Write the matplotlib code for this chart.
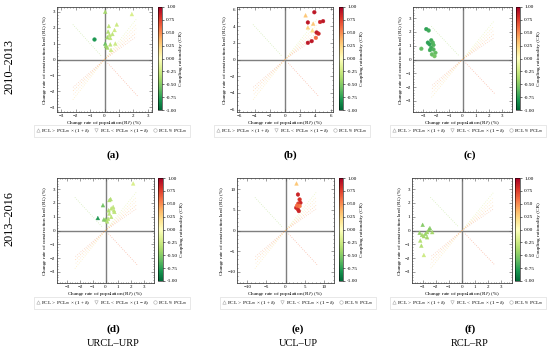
import numpy as np
import matplotlib
matplotlib.use('Agg')
import matplotlib.pyplot as plt
from matplotlib.lines import Line2D

plt.rcParams['font.family'] = ['Liberation Serif', 'DejaVu Serif']
plt.rcParams['mathtext.fontset'] = 'stix'

# Datos por panel: (x = R_P, y = R_L, CR, marcador)
a_x = [0.05, 1.9, 0.3, 0.85, 0.7, 0.25, 0.35, 0.55, 0.2, 0.4, 0.05, 0.1, 0.2, 0.4, 0.75, 0.45, -0.7]
a_y = [3.0, 2.85, 2.1, 2.2, 1.85, 1.75, 1.55, 1.6, 1.4, 1.35, 1.0, 0.85, 0.75, 0.95, 1.0, 0.6, 1.3]
a_cr = [-0.4, -0.2, -0.3, -0.25, -0.25, -0.35, -0.3, -0.3, -0.4, -0.3, -0.6, -0.45, -0.4, -0.3, -0.25, -0.25, -0.8]
a_m = ['^'] * 16 + ['o']

b_x = [2.7, 3.85, 3.0, 3.7, 4.6, 5.0, 4.15, 4.4, 4.05, 3.5, 3.0, 3.0, 3.6]
b_y = [5.3, 5.67, 4.45, 4.3, 4.5, 4.6, 3.24, 3.1, 2.6, 2.2, 2.0, 3.85, 3.5]
b_cr = [0.3, 0.9, 0.9, 0.3, 0.85, 0.9, 0.9, 0.85, 0.6, 0.9, 0.9, 0.25, 0.2]
b_m = ['^', 'o', 'o', '^', 'o', 'o', 'o', 'o', 'o', 'o', 'o', '^', '^']

c_x = [-2.78, -2.6, -2.66, -2.4, -2.28, -3.16, -2.53, -2.4, -2.23, -2.08, -2.35, -2.15, -2.5, -2.23]
c_y = [2.2, 2.1, 1.22, 1.39, 1.22, 0.78, 1.1, 0.85, 0.73, 0.49, 0.37, 0.24, 0.68, 1.05]
c_cr = [-0.75, -0.7, -0.75, -0.7, -0.65, -0.6, -0.75, -0.7, -0.65, -0.6, -0.6, -0.55, -0.7, -0.65]
c_m = ['o'] * 14

d_x = [2.17, -0.2, -0.6, 0.3, 0.4, 0.45, 0.2, 0.0, 0.13, 0.6, 0.66, 0.7, 0.3, 0.45, 0.24, -0.13]
d_y = [3.4, 1.83, 0.9, 2.2, 2.27, 1.6, 0.85, 0.8, 0.66, 1.7, 1.46, 1.34, 1.22, 0.98, 1.46, 0.8]
d_cr = [-0.2, -0.55, -0.8, -0.35, -0.35, -0.3, -0.35, -0.45, -0.35, -0.3, -0.3, -0.3, -0.3, -0.3, -0.35, -0.5]
d_m = ['^'] * 16

e_x = [2.64, 3.26, 3.7, 3.9, 3.35, 2.8, 3.26, 3.5, 3.7, 3.0]
e_y = [11.5, 8.7, 7.5, 6.7, 6.5, 5.5, 5.1, 4.7, 5.9, 6.0]
e_cr = [0.3, 0.85, 0.8, 0.85, 0.75, 0.85, 0.8, 0.85, 0.55, 0.6]
e_m = ['^'] + ['o'] * 9

f_x = [-2.99, -3.22, -3.04, -2.78, -2.65, -2.52, -2.44, -2.26, -2.9, -3.17, -3.09, -2.9, -2.65]
f_y = [0.41, -0.17, -0.32, -0.24, -0.12, 0.07, 0.17, -0.12, -0.41, -0.73, -1.1, -1.78, -0.49]
f_cr = [-0.5, -0.45, -0.4, -0.45, -0.4, -0.45, -0.5, -0.4, -0.4, -0.35, -0.35, -0.25, -0.4]
f_m = ['^'] * 13

panels = [
    ('(a)', a_x, a_y, a_cr, a_m, 3.3, [-3, -2, -1, 0, 1, 2, 3], 2.2),
    ('(b)', b_x, b_y, b_cr, b_m, 6.3, [-6, -4, -2, 0, 2, 4, 6], 4.2),
    ('(c)', c_x, c_y, c_cr, c_m, 3.8, [-3, -2, -1, 0, 1, 2, 3], 2.4),
    ('(d)', d_x, d_y, d_cr, d_m, 3.8, [-3, -2, -1, 0, 1, 2, 3], 2.4),
    ('(e)', e_x, e_y, e_cr, e_m, 12.7, [-10, -5, 0, 5, 10], 8.0),
    ('(f)', f_x, f_y, f_cr, f_m, 3.8, [-3, -2, -1, 0, 1, 2, 3], 2.4),
]

# posiciones en píxeles (izq, der, arriba, abajo) de ejes y barra de color
W, H = 550, 351
ax_px = [(57, 152, 7, 112), (237, 333, 7, 112), (413, 512, 7, 112),
         (57, 154, 178, 283), (237, 334, 178, 283), (412, 512, 178, 283)]
cb_px = [(158, 162), (339, 343), (516, 520), (158, 163), (339, 343), (515, 520)]
leg_px = [(112, 131), (292, 131), (468, 131), (112, 303), (298, 303), (468, 303)]
lab_px = [(113, 155), (290, 155), (470, 155), (113, 329), (298, 329), (470, 329)]

fan_q1 = [1.15, 1.0, 0.88, 0.76, 0.65]
fan_q3 = [1.15, 1.02, 0.9, 0.8]
fan_cols = ['#d9ef8b', '#fee08b', '#fdd49e', '#fdae61', '#f4a582']

cmap = plt.get_cmap('RdYlGn_r')
norm = plt.Normalize(-1, 1)

fig = plt.figure(figsize=(5.5, 3.51), dpi=100)

for i, (lab, xs, ys, cr, ms, lim, ticks, L) in enumerate(panels):
    l, r, t, b = ax_px[i]
    ax = fig.add_axes([l / W, (H - b) / H, (r - l) / W, (b - t) / H])
    ax.set_xlim(-lim, lim)
    ax.set_ylim(-lim, lim)
    ax.axhline(0, color='#7f7f7f', lw=1.0, zorder=1)
    ax.axvline(0, color='#7f7f7f', lw=1.0, zorder=1)

    # líneas de referencia (tenues, punteadas)
    ls = (0, (1, 2))
    ax.plot([-L, -0.1 * L], [L, 0.1 * L], color='#a6d96a', lw=0.55, ls=ls, alpha=0.55)
    ax.plot([0.1 * L, 1.05 * L], [-0.1 * L, -1.05 * L], color='#f46d43', lw=0.55, ls=ls, alpha=0.55)
    for s, c in zip(fan_q1, fan_cols):
        ax.plot([0, L], [0, L * s], color=c, lw=0.55, ls=ls, alpha=0.6)
    for s, c in zip(fan_q3, fan_cols[1:]):
        ax.plot([0, -L], [0, -L * s], color=c, lw=0.55, ls=ls, alpha=0.6)

    for m in set(ms):
        idx = [k for k in range(len(xs)) if ms[k] == m]
        ax.scatter([xs[k] for k in idx], [ys[k] for k in idx], c=[cr[k] for k in idx],
                   cmap=cmap, norm=norm, marker=m, s=7, linewidths=0.3,
                   edgecolors='face', zorder=3)

    ax.set_xticks(ticks)
    ax.set_yticks(ticks)
    ax.minorticks_on()
    ax.tick_params(which='both', direction='in', top=True, right=True,
                   labelsize=3.6, pad=1.2, width=0.4, color='#555555')
    ax.tick_params(which='major', length=2)
    ax.tick_params(which='minor', length=1)
    for sp in ax.spines.values():
        sp.set_linewidth(0.6)
        sp.set_color('#444444')
    ax.set_xlabel('Change rate of population (R$_P$) (%)', fontsize=3.8, labelpad=0.6)
    ax.set_ylabel('Change rate of construction land (R$_L$) (%)', fontsize=3.8, labelpad=0.6)

    c0, c1 = cb_px[i]
    cax = fig.add_axes([c0 / W, (H - b + 2) / H, (c1 - c0) / W, (b - t - 2) / H])
    sm = plt.cm.ScalarMappable(cmap=cmap, norm=norm)
    cb = fig.colorbar(sm, cax=cax, ticks=np.arange(-1, 1.01, 0.25), format='%.2f')
    cb.ax.tick_params(labelsize=3.8, length=1.5, width=0.4, pad=1.5)
    cb.outline.set_linewidth(0.4)
    cb.set_label('Coupling rationality (CR)', fontsize=3.8, labelpad=1)

    handles = [
        Line2D([], [], ls='none', marker='^', ms=2.5, mfc='none', mec='#aaaaaa', mew=0.4),
        Line2D([], [], ls='none', marker='v', ms=2.5, mfc='none', mec='#aaaaaa', mew=0.4),
        Line2D([], [], ls='none', marker='o', ms=2.5, mfc='none', mec='#aaaaaa', mew=0.4),
    ]
    names = ['PCL > PCL$_m$ × (1 + δ)', 'PCL < PCL$_m$ × (1 − δ)', 'PCL ≈ PCL$_m$']
    lx, ly = leg_px[i]
    leg = fig.legend(handles, names, loc='center', bbox_to_anchor=(lx / W, (H - ly) / H),
                     ncol=3, fontsize=3.8, frameon=True, handlelength=0.6,
                     handletextpad=0.3, columnspacing=0.9, borderpad=0.35, fancybox=False)
    leg.get_frame().set_linewidth(0.4)
    leg.get_frame().set_edgecolor('#cccccc')

    px, py = lab_px[i]
    fig.text(px / W, (H - py) / H, lab, ha='center', va='center', fontsize=8, fontweight='bold')

fig.text(10 / W, (H - 67) / H, '2010–2013', rotation=90, ha='center', va='center', fontsize=8.8)
fig.text(10 / W, (H - 219) / H, '2013–2016', rotation=90, ha='center', va='center', fontsize=8.8)
fig.text(113 / W, (H - 343) / H, 'URCL–URP', ha='center', va='center', fontsize=7.5)
fig.text(298 / W, (H - 343) / H, 'UCL–UP', ha='center', va='center', fontsize=7.5)
fig.text(470 / W, (H - 343) / H, 'RCL–RP', ha='center', va='center', fontsize=7.5)

fig.savefig('out.png', dpi=100)
